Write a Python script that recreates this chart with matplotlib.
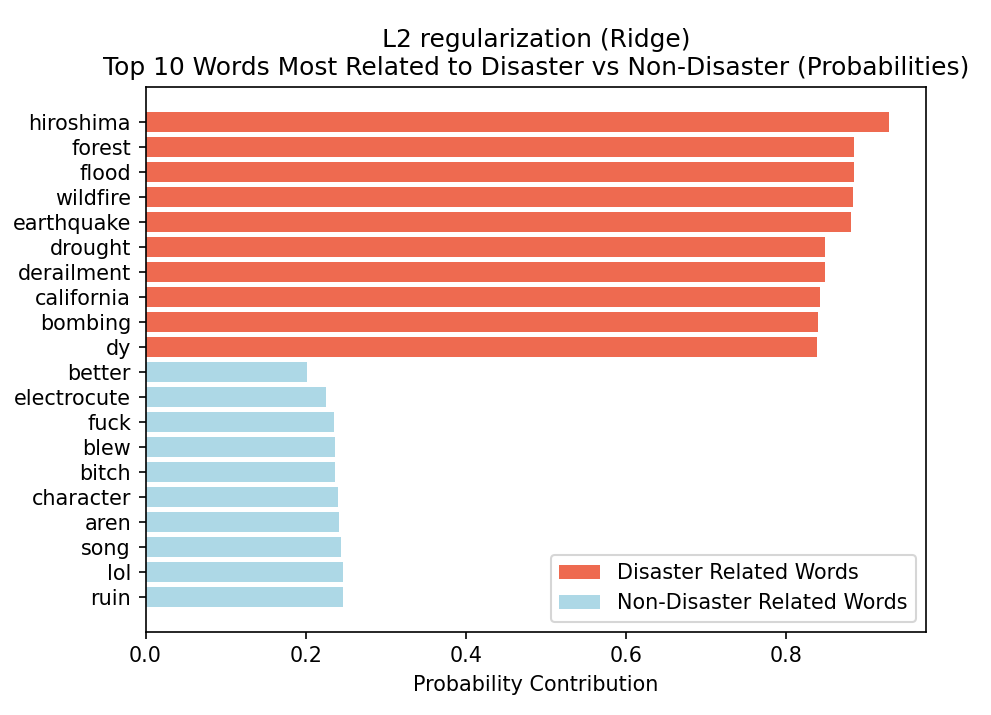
import matplotlib.pyplot as plt

disaster_words = ["hiroshima", "forest", "flood", "wildfire", "earthquake",
                  "drought", "derailment", "california", "bombing", "dy"]
disaster_probs = [0.928, 0.885, 0.885, 0.8835, 0.881,
                  0.848, 0.848, 0.842, 0.840, 0.8385]

non_disaster_words = ["better", "electrocute", "fuck", "blew", "bitch",
                      "character", "aren", "song", "lol", "ruin"]
non_disaster_probs = [0.202, 0.225, 0.235, 0.2365, 0.2365,
                      0.240, 0.242, 0.244, 0.246, 0.246]

DPI = 149
fig = plt.figure(figsize=(991/DPI, 715/DPI), dpi=DPI)
ax = fig.add_axes([145.5/991, 1 - 632/715, (926-145.5)/991, (632-87)/715])

ax.barh(disaster_words, disaster_probs, color="#ee6a50", label="Disaster Related Words")
ax.barh(non_disaster_words, non_disaster_probs, color="lightblue", label="Non-Disaster Related Words")
ax.invert_yaxis()

ax.set_xlabel("Probability Contribution")
ax.set_title("L2 regularization (Ridge)\nTop 10 Words Most Related to Disaster vs Non-Disaster (Probabilities)")
ax.legend(loc="lower right")

fig.savefig("out.png", dpi=DPI)
